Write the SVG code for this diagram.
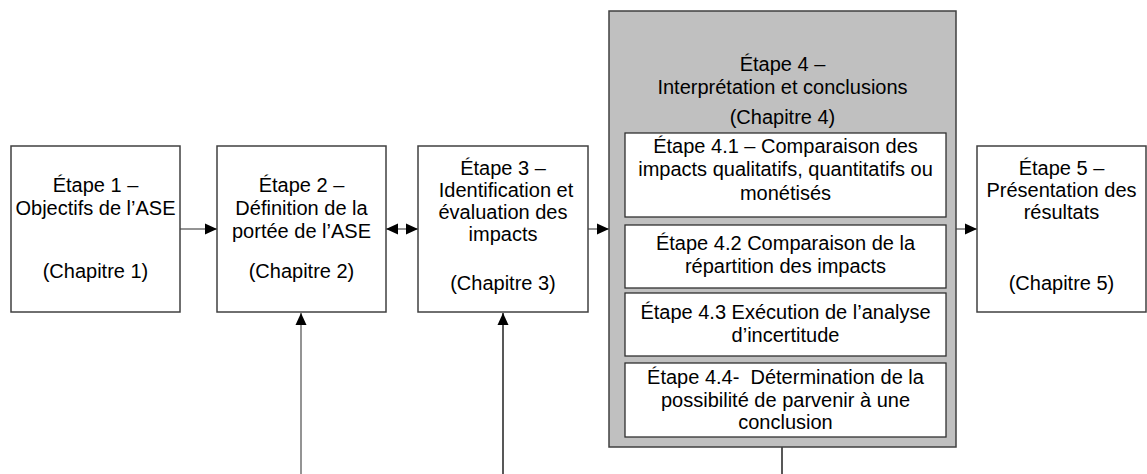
<svg xmlns="http://www.w3.org/2000/svg" width="1147" height="474" viewBox="0 0 1147 474">
  <defs>
    <marker id="head" viewBox="0 0 12 12" refX="12" refY="6" markerWidth="12" markerHeight="12" markerUnits="userSpaceOnUse" orient="auto-start-reverse">
      <path d="M0,0.5 L12,6 L0,11.5 z" fill="#000"/>
    </marker>
    <style>
      .box { fill: #fff; stroke: #404040; stroke-width: 1.5; }
      .group { fill: #c0c0c0; stroke: #404040; stroke-width: 1.5; }
      .sub { fill: #fff; stroke: #303030; stroke-width: 1.3; }
      text { font-family: "Liberation Sans", Arial, sans-serif; font-size: 20px; fill: #000; text-anchor: middle; }
      .link { fill: none; stroke: #707070; stroke-width: 1.5; }
      .dark { stroke: #202020; }
    </style>
  </defs>

  <!-- connectors -->
  <g id="connectors">
    <line class="link" x1="180" y1="229" x2="217" y2="229" marker-end="url(#head)"/>
    <line class="link" x1="386" y1="229" x2="418" y2="229" marker-start="url(#head)" marker-end="url(#head)"/>
    <line class="link" x1="588" y1="229" x2="609" y2="229" marker-end="url(#head)"/>
    <line class="link" x1="956" y1="229" x2="977" y2="229" marker-end="url(#head)"/>
    <line class="link" x1="301" y1="474" x2="301" y2="313" marker-end="url(#head)"/>
    <line class="link dark" x1="503" y1="474" x2="503" y2="313" marker-end="url(#head)"/>
    <line class="link dark" x1="782" y1="447" x2="782" y2="474"/>
  </g>

  <!-- Step 1 -->
  <g id="step1">
    <rect class="box" x="11" y="146" width="169" height="166"/>
    <text x="95.5" y="192">Étape 1 –</text>
    <text x="95.5" y="215">Objectifs de l’ASE</text>
    <text x="95.5" y="278">(Chapitre 1)</text>
  </g>

  <!-- Step 2 -->
  <g id="step2">
    <rect class="box" x="217" y="146" width="169" height="166"/>
    <text x="301.5" y="192">Étape 2 –</text>
    <text x="301.5" y="215">Définition de la</text>
    <text x="301.5" y="238">portée de l’ASE</text>
    <text x="301.5" y="278">(Chapitre 2)</text>
  </g>

  <!-- Step 3 -->
  <g id="step3">
    <rect class="box" x="418" y="146" width="170" height="166"/>
    <text x="503" y="175">Étape 3 –</text>
    <text x="506" y="197">Identification et</text>
    <text x="503" y="219">évaluation des</text>
    <text x="503" y="241">impacts</text>
    <text x="503" y="290">(Chapitre 3)</text>
  </g>

  <!-- Step 4 with its sub-steps -->
  <g id="step4">
    <rect class="group" x="609" y="11" width="347" height="436"/>
    <text x="782.5" y="71">Étape 4 –</text>
    <text x="782.5" y="94">Interprétation et conclusions</text>
    <text x="782.5" y="124">(Chapitre 4)</text>
  </g>
  <g id="step4-1">
    <rect class="sub" x="625" y="133" width="321" height="84"/>
    <text x="785.5" y="153">Étape 4.1 – Comparaison des</text>
    <text x="785.5" y="176">impacts qualitatifs, quantitatifs ou</text>
    <text x="785.5" y="200">monétisés</text>
  </g>
  <g id="step4-2">
    <rect class="sub" x="625" y="225" width="321" height="63"/>
    <text x="785.5" y="250">Étape 4.2 Comparaison de la</text>
    <text x="785.5" y="273">répartition des impacts</text>
  </g>
  <g id="step4-3">
    <rect class="sub" x="625" y="293" width="321" height="63"/>
    <text x="785.5" y="319">Étape 4.3 Exécution de l’analyse</text>
    <text x="785.5" y="342">d’incertitude</text>
  </g>
  <g id="step4-4">
    <rect class="sub" x="625" y="363" width="321" height="74"/>
    <text x="785.5" y="384" xml:space="preserve">Étape 4.4-  Détermination de la</text>
    <text x="785.5" y="407">possibilité de parvenir à une</text>
    <text x="785.5" y="429">conclusion</text>
  </g>

  <!-- Step 5 -->
  <g id="step5">
    <rect class="box" x="977" y="146" width="169" height="166"/>
    <text x="1061.5" y="175">Étape 5 –</text>
    <text x="1061.5" y="197">Présentation des</text>
    <text x="1061.5" y="219">résultats</text>
    <text x="1061.5" y="290">(Chapitre 5)</text>
  </g>
</svg>
